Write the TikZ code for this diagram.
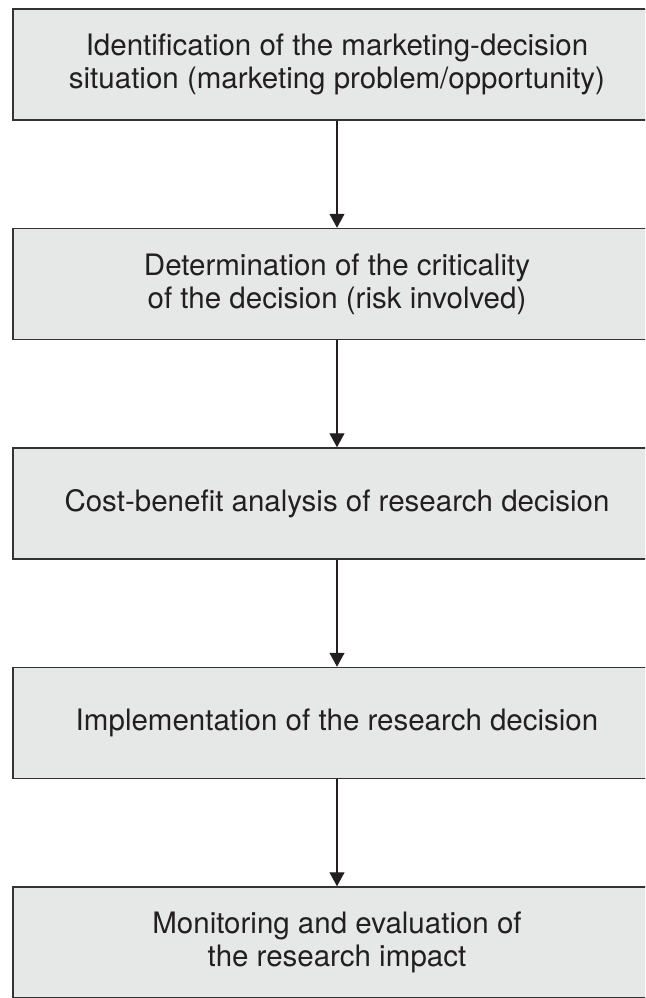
\documentclass[tikz,border=0pt]{standalone}
\usepackage{fontspec}
\setmainfont{TeX Gyre Heros}
\usetikzlibrary{positioning,arrows.meta}
\definecolor{boxgray}{HTML}{E6E7E7}
\definecolor{edgegray}{HTML}{333333}
\definecolor{inkblack}{HTML}{231F20}
\tikzset{
	stage/.style={draw=edgegray, line width=1.5pt, fill=boxgray, rectangle,
		minimum width=648pt, minimum height=111pt, align=center, inner sep=0pt,
		font=\fontsize{29.5}{33}\selectfont, text=inkblack},
	flowarrow/.style={line width=1.2pt, color=inkblack, -{Triangle[length=14pt, width=15pt]}},
}

\begin{document}
\begin{tikzpicture}[x=1pt, y=1pt]
		%%%%% START %%%%%
		
		\useasboundingbox (0, 0) rectangle (645, -998);
		\clip (0, 0) rectangle (645, -998);
		
		\node[stage] (ident) at (337, -64.5) {Identification of the marketing-decision\\situation (marketing problem/opportunity)};
		\node[stage, below=107pt of ident] (crit) {Determination of the criticality\\of the decision (risk involved)};
		\node[stage, below=107pt of crit] (cost) {Cost-benefit analysis of research decision};
		\node[stage, below=107pt of cost] (impl) {Implementation of the research decision};
		\node[stage, below=107pt of impl] (monit) {Monitoring and evaluation of\\the research impact};
		
		\draw[flowarrow] (ident) -- (crit);
		\draw[flowarrow] (crit) -- (cost);
		\draw[flowarrow] (cost) -- (impl);
		\draw[flowarrow] (impl) -- (monit);
		
		%%%%% END %%%%%
	\end{tikzpicture}
\end{document}
